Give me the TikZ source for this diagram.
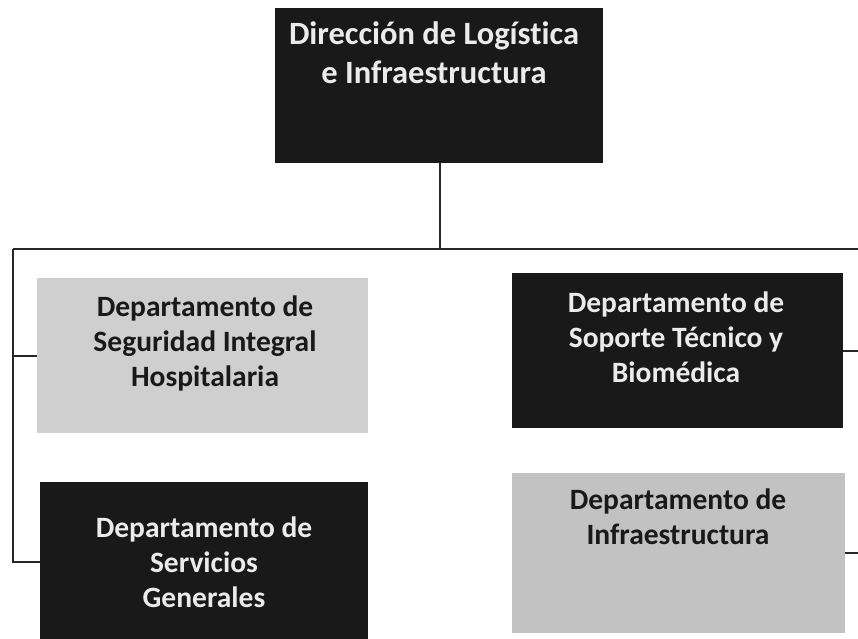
\documentclass[tikz,border=0pt]{standalone}
\usepackage{fontspec}
\setmainfont[Ligatures={NoCommon}]{Carlito}
\begin{document}
\begin{tikzpicture}[x=1pt,y=-1pt,
  darkbox/.style={draw=none,fill=black!90,rectangle,inner sep=0pt,outer sep=0pt},
  lightbox/.style={draw=none,fill=black!20,rectangle,inner sep=0pt,outer sep=0pt},
  darktxt/.style={text=black!8,align=center,font=\bfseries\fontsize{29.5}{35}\selectfont,inner sep=0pt},
  lighttxt/.style={text=black!90,align=center,font=\bfseries\fontsize{29.5}{35}\selectfont,inner sep=0pt},
  conn/.style={draw=black!85,line width=2pt}]
\useasboundingbox (0,0) rectangle (858,638);
\fill[white] (0,0) rectangle (858,638);
% boxes
\node[darkbox,minimum width=328pt,minimum height=155pt] (top) at (439,85.5) {};
\node[lightbox,fill=black!19,minimum width=331pt,minimum height=155pt] (sih) at (202.5,355.5) {};
\node[darkbox,minimum width=331pt,minimum height=155pt] (stb) at (677.5,350.5) {};
\node[darkbox,minimum width=328pt,minimum height=160pt] (sg) at (204,562) {};
\node[lightbox,fill=black!24,minimum width=333pt,minimum height=160pt] (inf) at (678.5,553) {};
% texts
\node[darktxt,font=\bfseries\fontsize{32.5}{39}\selectfont] (ttop) at (434,53) {Dirección de Logística\\e Infraestructura};
\node[lighttxt] (tsih) at (205,343) {Departamento de\\Seguridad Integral\\Hospitalaria};
\node[darktxt] (tstb) at (676,337) {Departamento de\\Soporte Técnico y\\Biomédica};
\node[darktxt] (tsg) at (204,562) {Departamento de\\Servicios\\Generales};
\node[lighttxt] (tinf) at (678,517) {Departamento de\\Infraestructura};
% connectors
\coordinate (busL) at (13,249);
\coordinate (busR) at (863,249);
\coordinate (busM) at (440,249);
\draw[conn] (top.south -| busM) -- (busM);
\draw[conn] (busL) -- (busR);
\draw[conn] (busL) |- (sih.west);
\draw[conn] (busL) |- (sg.west);
\draw[conn] (busR) |- (stb.east);
\draw[conn] (busR) |- (inf.east);
\end{tikzpicture}
\end{document}
